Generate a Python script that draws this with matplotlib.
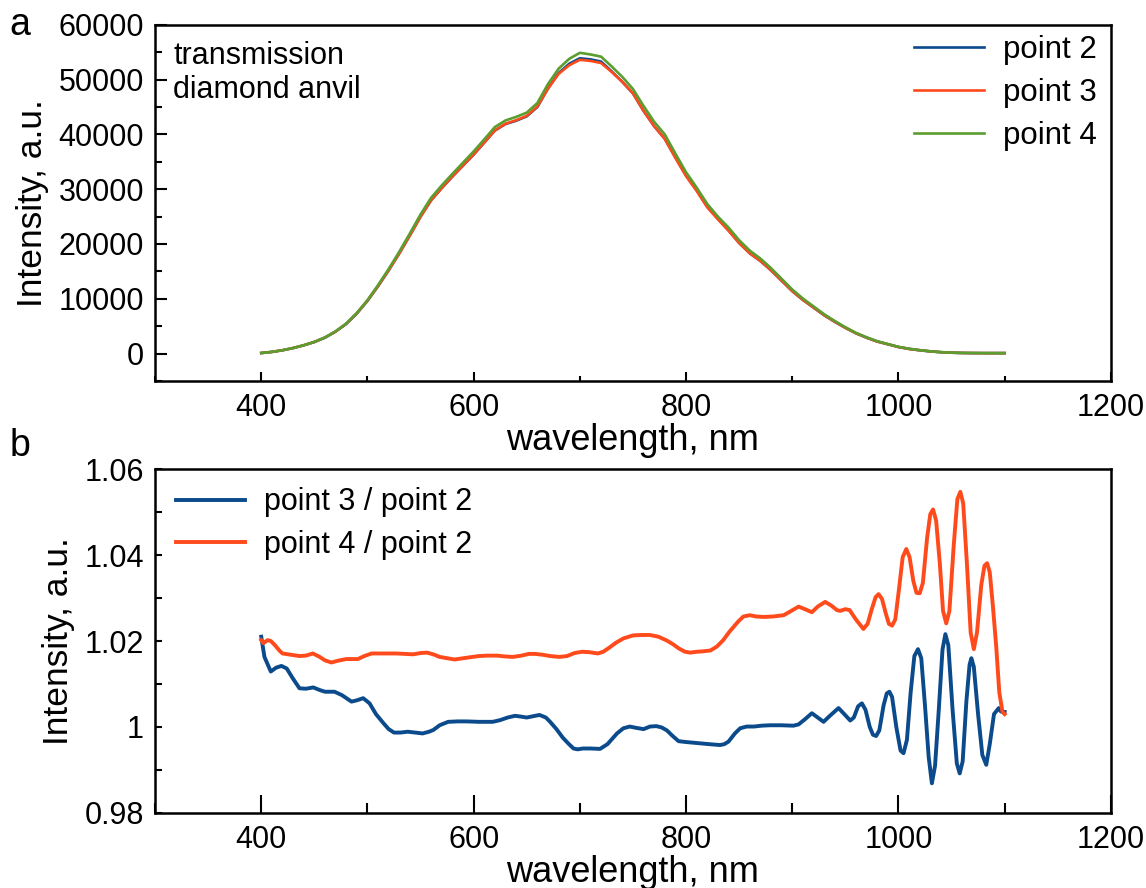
import matplotlib
matplotlib.use("Agg")
import matplotlib.pyplot as plt
from matplotlib.ticker import MultipleLocator, FuncFormatter

plt.rcParams['font.family'] = ['Liberation Sans', 'DejaVu Sans']

# ---- panel a: transmission spectra ----
wl = list(range(400, 1101, 10))
point2 = [100, 300, 600, 1000, 1500, 2100, 2900, 4000, 5400, 7300,
          9600, 12300, 15200, 18300, 21600, 25000, 28000, 30200, 32300, 34300,
          36300, 38500, 40700, 41900, 42500, 43300, 45000, 48400, 51200, 52900,
          53900, 53700, 53300, 51500, 49600, 47500, 44300, 41500, 39200, 35800,
          32500, 29800, 26800, 24600, 22500, 20200, 18300, 16900, 15200, 13300,
          11400, 9800, 8400, 7000, 5800, 4700, 3700, 2900, 2200, 1700,
          1200, 850, 600, 400, 250, 160, 110, 90, 80, 80, 80]
point3 = [100, 304, 608, 1012, 1515, 2120, 2925, 4030, 5440, 7345,
          9660, 12320, 15200, 18270, 21570, 24970, 27980, 30230, 32340, 34340,
          36340, 38540, 40740, 41950, 42590, 43390, 45100, 48350, 51050, 52620,
          53620, 53420, 53030, 51400, 49580, 47500, 44300, 41510, 39180, 35700,
          32390, 29690, 26690, 24500, 22430, 20190, 18300, 16910, 15215, 13320,
          11405, 9805, 8415, 7015, 5810, 4710, 3710, 2900, 2195, 1705,
          1200, 845, 610, 400, 250, 160, 110, 90, 80, 80, 80]
point4 = [100, 305, 610, 1015, 1525, 2135, 2945, 4065, 5485, 7415,
          9750, 12500, 15450, 18600, 21950, 25400, 28450, 30700, 32800, 34850,
          36900, 39100, 41350, 42550, 43200, 43980, 45730, 49200, 52000, 53800,
          54900, 54600, 54200, 52400, 50500, 48300, 45200, 42300, 40000, 36500,
          33100, 30300, 27300, 25000, 23000, 20700, 18800, 17350, 15600, 13650,
          11700, 10050, 8620, 7190, 5950, 4820, 3790, 2970, 2260, 1740,
          1230, 880, 620, 410, 255, 165, 112, 92, 82, 82, 80]

# ---- panel b: ratios ----
wl_r32 = [400, 403, 409, 414, 419, 424, 430, 436, 442, 449, 455, 460, 469, 476,
          485, 490, 496, 502, 508, 515, 520, 525, 531, 538, 545, 552, 558, 562,
          568, 576, 585, 593, 605, 618, 625, 632, 639, 645, 650, 656, 662, 668,
          672, 678, 684, 689, 694, 698, 703, 710, 719, 726, 735, 741, 747, 753,
          760, 766, 772, 777, 782, 787, 793, 800, 813, 822, 832, 836, 840, 846,
          851, 857, 864, 871, 879, 890, 901, 906, 912, 918.5, 924, 929.5, 935,
          943.6, 949, 954.6, 958, 962, 965.6, 969, 973, 976, 979, 982, 986, 989,
          991.5, 994, 998, 1002, 1004.8, 1008, 1011.5, 1015, 1018.4, 1021.5,
          1025, 1028.5, 1031.5, 1034.5, 1038, 1041.5, 1044.2, 1047, 1051, 1055,
          1057.7, 1060.5, 1064, 1067, 1068.7, 1071, 1075, 1079, 1082.7, 1086,
          1090, 1094.5, 1096.5, 1100]
r32 = [1.0210, 1.0163, 1.0129, 1.0138, 1.0142, 1.0136, 1.0112, 1.0090, 1.0089,
       1.0092, 1.0086, 1.0082, 1.0082, 1.0074, 1.0059, 1.0062, 1.0067, 1.0055,
       1.0030, 1.0009, 0.9995, 0.9987, 0.9987, 0.9989, 0.9987, 0.9985, 0.9989,
       0.9993, 1.0004, 1.0012, 1.0013, 1.0013, 1.0012, 1.0012, 1.0016, 1.0022,
       1.0026, 1.0024, 1.0022, 1.0025, 1.0028, 1.0022, 1.0012, 0.9995, 0.9975,
       0.9962, 0.9950, 0.9948, 0.9950, 0.9950, 0.9949, 0.9960, 0.9985, 0.9997,
       1.0001, 0.9998, 0.9995, 1.0001, 1.0002, 0.9999, 0.9992, 0.9980, 0.9967,
       0.9965, 0.9962, 0.9960, 0.9958, 0.9960, 0.9966, 0.9985, 0.9997, 1.0001,
       1.0001, 1.0003, 1.0004, 1.0004, 1.0003, 1.0006, 1.0018, 1.0032, 1.0022,
       1.0012, 1.0025, 1.0044, 1.0030, 1.0015, 1.0022, 1.0048, 1.0055, 1.0040,
       1.0000, 0.9982, 0.9979, 0.9992, 1.0050, 1.0078, 1.0082, 1.0070, 1.0000,
       0.9945, 0.9939, 0.9970, 1.0080, 1.0165, 1.0181, 1.0160, 1.0050, 0.9930,
       0.9869, 0.9910, 1.0040, 1.0180, 1.0216, 1.0190, 1.0040, 0.9915, 0.9892,
       0.9920, 1.0060, 1.0145, 1.0160, 1.0140, 1.0030, 0.9935, 0.9912, 0.9960,
       1.0030, 1.0044, 1.0036, 1.0035]

wl_r42 = [400, 402, 406, 409, 413, 417, 420, 428, 436, 442, 448.6, 455, 460,
          466, 472, 480, 491, 497, 504, 515, 527, 535, 543, 550, 556, 562, 568,
          575, 582, 590, 596, 605, 613, 622, 630, 637, 645, 652, 658, 665, 672,
          681, 688, 695, 702, 709, 717, 722, 728, 734, 741, 750, 758, 766, 774,
          782, 788, 793, 799, 804, 810, 816, 823, 829, 835, 841, 849, 854, 860,
          866, 873, 882, 892, 899, 906, 912, 918.5, 924, 931, 937, 942, 945,
          950, 954, 960, 967, 971, 975, 978.5, 981.3, 984.5, 988, 991, 994, 997,
          1000.5, 1004, 1007.4, 1010.5, 1014, 1017, 1020, 1023, 1027, 1030,
          1032.6, 1035.5, 1039, 1042, 1045, 1048, 1052, 1055.5, 1058.3, 1061,
          1064.5, 1068, 1071, 1074, 1078, 1081, 1083.5, 1086, 1089, 1092, 1095,
          1098, 1100]
r42 = [1.0202, 1.0195, 1.0202, 1.0200, 1.0190, 1.0178, 1.0171, 1.0168, 1.0165,
       1.0166, 1.0171, 1.0163, 1.0155, 1.0150, 1.0154, 1.0158, 1.0158, 1.0165,
       1.0171, 1.0171, 1.0171, 1.0170, 1.0169, 1.0172, 1.0173, 1.0169, 1.0163,
       1.0160, 1.0157, 1.0160, 1.0162, 1.0165, 1.0166, 1.0166, 1.0164, 1.0163,
       1.0166, 1.0170, 1.0170, 1.0168, 1.0165, 1.0163, 1.0165, 1.0172, 1.0175,
       1.0174, 1.0171, 1.0175, 1.0185, 1.0196, 1.0206, 1.0213, 1.0214, 1.0214,
       1.0210, 1.0201, 1.0192, 1.0183, 1.0175, 1.0173, 1.0175, 1.0176, 1.0178,
       1.0187, 1.0202, 1.0222, 1.0245, 1.0257, 1.0260, 1.0257, 1.0256, 1.0257,
       1.0260, 1.0270, 1.0280, 1.0274, 1.0267, 1.0280, 1.0291, 1.0282, 1.0272,
       1.0270, 1.0274, 1.0272, 1.0250, 1.0228, 1.0240, 1.0275, 1.0302, 1.0309,
       1.0298, 1.0265, 1.0240, 1.02357, 1.0250, 1.0320, 1.0395, 1.0414, 1.0395,
       1.0340, 1.0312, 1.0311, 1.0335, 1.0440, 1.0495, 1.0506, 1.0480, 1.0380,
       1.0270, 1.0241, 1.0270, 1.0420, 1.0530, 1.0547, 1.0520, 1.0380, 1.0220,
       1.0181, 1.0220, 1.0330, 1.0375, 1.0381, 1.0360, 1.0280, 1.0190, 1.0080,
       1.0035, 1.0030]

blue = '#0b4a8b'
orange = '#ff4a1c'
green = '#5b9e2f'

fig = plt.figure(figsize=(11.46, 8.88), dpi=100)
ax1 = fig.add_axes([0.1353, 0.571, 0.834, 0.401])
ax2 = fig.add_axes([0.1353, 0.0845, 0.834, 0.3873])

# panel a
ax1.plot(wl, point2, color=blue, lw=1.9, label='point 2')
ax1.plot(wl, point3, color=orange, lw=1.9, label='point 3')
ax1.plot(wl, point4, color=green, lw=1.9, label='point 4')
ax1.set_xlim(300, 1200)
ax1.set_ylim(-5000, 60000)
ax1.xaxis.set_major_locator(MultipleLocator(200))
ax1.xaxis.set_minor_locator(MultipleLocator(100))
ax1.yaxis.set_major_locator(MultipleLocator(10000))
ax1.yaxis.set_minor_locator(MultipleLocator(5000))
ax1.tick_params(axis='y', which='major', direction='in', length=8.5, width=1.5)
ax1.tick_params(axis='y', which='minor', direction='in', length=5, width=1.5)
ax1.tick_params(axis='x', which='major', direction='in', length=6.5, width=1.5)
ax1.tick_params(axis='x', which='minor', direction='in', length=3.8, width=1.5)
ax1.set_xlabel('wavelength, nm', fontsize=26, labelpad=0)
ax1.set_ylabel('Intensity, a.u.', fontsize=25.5, labelpad=7)
ax1.text(0.019, 0.955, 'transmission\ndiamond anvil', transform=ax1.transAxes,
         fontsize=22, va='top', ha='left')
ax1.legend(loc='upper right', bbox_to_anchor=(1.008, 1.034), frameon=False,
           fontsize=22.5, handlelength=2.25, handletextpad=0.6,
           labelspacing=0.42, borderaxespad=0.3)

# panel b
ax2.plot(wl_r32, r32, color=blue, lw=2.8, label='point 3 / point 2')
ax2.plot(wl_r42, r42, color=orange, lw=2.8, label='point 4 / point 2')
ax2.set_xlim(300, 1200)
ax2.set_ylim(0.98, 1.06)
ax2.xaxis.set_major_locator(MultipleLocator(200))
ax2.xaxis.set_minor_locator(MultipleLocator(100))
ax2.yaxis.set_major_locator(MultipleLocator(0.02))
ax2.yaxis.set_minor_locator(MultipleLocator(0.01))
ax2.yaxis.set_major_formatter(FuncFormatter(lambda v, p: '%g' % round(v, 4)))
ax2.tick_params(axis='y', which='both', direction='in', length=5, width=1.5)
ax2.tick_params(axis='x', which='major', direction='in', length=13, width=1.5)
ax2.tick_params(axis='x', which='minor', direction='in', length=7.5, width=1.5)
ax2.set_xlabel('wavelength, nm', fontsize=26, labelpad=0)
ax2.set_ylabel('Intensity, a.u.', fontsize=25.5, labelpad=7)
ax2.legend(loc='upper left', bbox_to_anchor=(0.0, 1.009), frameon=False,
           fontsize=22, handlelength=2.25, handletextpad=0.6,
           labelspacing=0.42, borderaxespad=0.3)

for ax in (ax1, ax2):
    ax.tick_params(axis='x', labelsize=22, pad=9)
    ax.tick_params(axis='y', labelsize=22, pad=8)
    for s in ax.spines.values():
        s.set_linewidth(1.8)

fig.text(0.008, 0.972, 'a', fontsize=27, va='center', ha='left')
fig.text(0.008, 0.498, 'b', fontsize=27, va='center', ha='left')

fig.savefig('out.png', dpi=100)
